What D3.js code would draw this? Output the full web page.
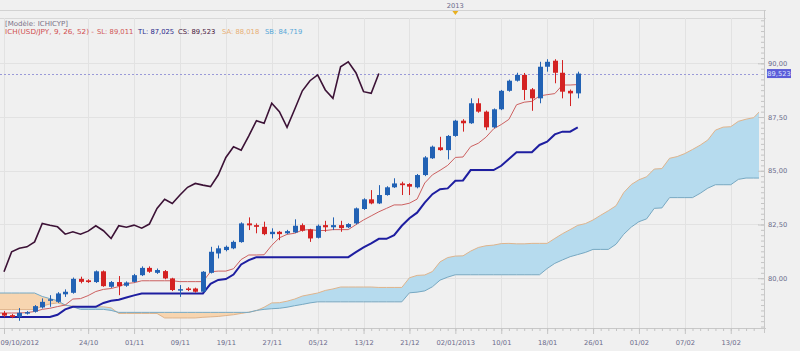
<!DOCTYPE html>
<html><head><meta charset="utf-8">
<script src="https://cdn.jsdelivr.net/npm/d3@7"></script>
<style>
body{margin:0;background:#f0f0f0;}
svg{display:block;font-family:"DejaVu Sans",Verdana,sans-serif;}
</style>
</head><body>
<svg id="c" width="800" height="351"></svg>
<script>
// ---- data ----
const xTickIndex = [0, 11, 17, 23, 29, 35, 41, 47, 53, 59, 65, 71, 77, 83, 89, 95];
const xTickLabels = ["09/10/2012","24/10","01/11","09/11","19/11","27/11","05/12","13/12","21/12","02/01/2013","10/01","18/01","26/01","01/02","07/02","13/02"];
const yTickValues = [80, 82.5, 85, 87.5, 90];

const open = [78.38,78.28,78.20,78.36,78.44,78.64,79.00,78.90,79.25,79.32,
 79.97,79.90,79.82,80.32,79.60,79.82,79.65,79.83,80.14,80.48,
 80.25,80.33,79.99,79.47,79.52,79.52,79.37,80.25,81.15,81.31,
 81.39,81.68,82.55,82.47,82.39,82.05,82.16,82.09,82.13,82.47,
 82.27,81.88,82.47,82.37,82.47,82.37,82.55,83.22,83.67,83.48,
 83.87,84.23,84.41,84.38,84.23,84.80,85.58,86.09,85.96,86.62,
 87.33,87.21,88.14,87.75,87.02,87.86,88.72,89.19,89.46,88.79,
 88.37,89.84,90.12,89.56,88.72,88.60];
const high = [78.47,78.33,78.61,78.47,78.75,79.06,79.21,79.35,79.48,80.03,
 80.07,79.95,80.36,80.36,79.87,80.10,79.85,80.20,80.55,80.55,
 80.45,80.38,80.02,79.68,79.58,79.56,80.33,81.46,81.52,81.52,
 81.75,82.60,82.83,82.55,82.63,82.32,82.20,82.25,82.74,82.55,
 82.30,82.50,82.67,82.83,82.67,82.56,83.29,83.72,84.10,84.33,
 84.28,84.65,84.49,84.42,84.85,85.68,86.17,86.58,86.66,87.37,
 87.40,88.37,88.37,87.80,87.90,88.76,89.24,89.56,89.55,88.85,
 90.07,90.19,90.19,90.15,88.78,89.61];
const low = [78.19,78.14,78.02,78.31,78.40,78.59,78.67,78.85,79.13,79.28,
 79.76,79.78,79.78,79.60,79.55,79.21,79.60,79.80,80.10,80.25,
 80.20,79.95,79.40,79.13,79.40,79.33,79.35,80.22,80.92,81.25,
 81.35,81.65,82.24,82.09,82.00,81.85,81.77,82.05,82.10,82.17,
 81.69,81.85,82.16,82.24,82.16,82.33,82.50,83.18,83.44,83.45,
 83.84,84.20,83.87,83.87,84.18,84.75,85.55,85.93,85.53,86.58,
 86.82,87.18,87.70,86.89,86.98,87.82,88.68,89.15,88.29,87.79,
 88.14,89.61,89.07,88.37,88.01,88.37];
const close = [78.26,78.19,78.39,78.42,78.70,78.90,79.02,79.29,79.37,79.97,
 79.83,79.82,80.32,79.63,79.82,79.63,79.80,80.14,80.48,80.30,
 80.38,79.99,79.45,79.49,79.45,79.37,80.30,81.23,81.39,81.46,
 81.69,82.55,82.46,82.39,82.05,82.16,82.05,82.19,82.44,82.21,
 81.85,82.44,82.37,82.47,82.33,82.52,83.25,83.67,83.48,83.87,
 84.23,84.41,84.33,84.26,84.80,85.62,86.12,85.96,86.62,87.33,
 87.21,88.14,87.75,87.02,87.86,88.72,89.19,89.46,88.76,88.37,
 89.84,90.07,89.56,88.68,88.60,89.523];
const tenkan = [78.38,78.38,78.38,78.40,78.45,78.55,78.60,78.68,78.75,79.03,
 79.05,79.19,79.38,79.48,79.52,79.61,79.75,79.79,79.88,79.88,
 79.88,79.88,79.88,79.84,79.84,79.84,79.84,80.30,80.33,80.33,
 80.44,80.87,81.08,81.08,81.09,81.53,81.88,82.04,82.09,82.24,
 82.26,82.22,82.22,82.26,82.26,82.26,82.49,82.71,82.90,83.09,
 83.25,83.41,83.41,83.49,83.68,84.43,84.81,85.02,85.25,85.62,
 85.64,86.12,86.28,86.56,86.95,87.15,87.39,88.07,88.19,88.23,
 88.48,88.54,88.59,88.99,88.99,89.01];
const kijun = [78.20,78.20,78.20,78.20,78.20,78.20,78.20,78.30,78.55,78.67,
 78.67,78.67,78.67,78.85,78.95,79.00,79.10,79.20,79.29,79.29,
 79.29,79.29,79.29,79.29,79.29,79.29,79.29,79.74,79.92,79.96,
 80.17,80.64,80.84,80.98,80.98,80.98,80.98,80.98,80.98,80.98,
 80.98,80.98,80.98,80.98,80.98,80.98,81.21,81.43,81.62,81.83,
 81.83,82.00,82.44,82.79,83.05,83.52,83.91,84.14,84.18,84.53,
 84.55,85.03,85.03,85.03,85.03,85.23,85.55,85.86,85.86,85.86,
 86.20,86.35,86.69,86.82,86.82,87.02];
const chikou = [80.30,81.23,81.39,81.46,81.69,82.55,82.46,82.39,82.05,82.16,
 82.05,82.19,82.44,82.21,81.85,82.44,82.37,82.47,82.33,82.52,
 83.25,83.67,83.48,83.87,84.23,84.41,84.33,84.26,84.80,85.62,
 86.12,85.96,86.62,87.33,87.21,88.14,87.75,87.02,87.86,88.72,
 89.19,89.46,88.76,88.37,89.84,90.07,89.56,88.68,88.60,89.523];
const senkouA = [78.54,78.54,78.54,78.54,78.54,78.70,78.80,78.85,78.75,78.70,
 78.67,78.67,78.67,78.67,78.62,78.36,78.36,78.36,78.36,78.36,
 78.36,78.15,78.15,78.15,78.15,78.15,78.18,78.20,78.22,78.26,
 78.30,78.36,78.42,78.49,78.65,78.85,78.86,78.93,79.03,79.17,
 79.24,79.31,79.43,79.50,79.59,79.59,79.59,79.59,79.59,79.57,
 79.57,79.57,79.57,80.02,80.13,80.15,80.31,80.76,80.96,81.03,
 81.04,81.26,81.43,81.51,81.54,81.61,81.62,81.60,81.60,81.62,
 81.62,81.62,81.85,82.07,82.26,82.46,82.54,82.71,82.93,83.14,
 83.37,83.98,84.36,84.58,84.72,85.08,85.10,85.58,85.66,85.80,
 85.99,86.19,86.43,86.89,87.03,87.05,87.30,87.40,87.47,87.84,
 87.91,88.02];
const senkouB = [79.31,79.31,79.31,79.31,79.31,79.15,79.05,78.95,78.75,78.67,
 78.55,78.55,78.55,78.55,78.50,78.41,78.41,78.41,78.41,78.41,
 78.41,78.41,78.41,78.41,78.41,78.41,78.41,78.41,78.41,78.41,
 78.41,78.41,78.41,78.50,78.55,78.58,78.60,78.65,78.72,78.78,
 78.85,78.90,78.90,78.90,78.90,78.90,78.90,78.90,78.90,78.90,
 78.90,78.90,78.90,79.32,79.35,79.41,79.60,79.91,80.05,80.16,
 80.16,80.16,80.16,80.16,80.16,80.16,80.16,80.16,80.16,80.16,
 80.16,80.45,80.69,80.85,81.00,81.10,81.20,81.34,81.34,81.34,
 81.58,82.04,82.38,82.63,82.76,83.25,83.27,83.75,83.75,83.75,
 83.75,83.95,84.19,84.35,84.35,84.35,84.60,84.66,84.66,84.66,
 84.72,84.72];
const lastPrice = 89.523;
const legendItems = [
  {text:"SL: 89,011", color:"#d05858"},
  {text:"TL: 87,025", color:"#2a2a8a"},
  {text:"CS: 89,523", color:"#4a1a40"},
  {text:"SA: 88,018", color:"#e8b078"},
  {text:"SB: 84,719", color:"#58a8d8"}
];

// ---- layout ----
const svg = d3.select("#c");
const P = {left:0, right:759, top:18, bottom:328};
const x = d3.scaleLinear().domain([0, 95]).range([4, 4 + 95*7.65]);
const y = d3.scaleLinear().domain([80, 90]).range([278.2, 63.3]);
const lx = i => x(i === 0 ? -0.6 : i);

svg.append("rect").attr("width",800).attr("height",351).attr("fill","#f0f0f0");

const defs = svg.append("defs");
defs.append("clipPath").attr("id","plot").append("rect")
  .attr("x",P.left).attr("y",P.top).attr("width",P.right-P.left).attr("height",P.bottom-P.top);

// top strip
svg.append("line").attr("x1",0).attr("x2",766).attr("y1",10.5).attr("y2",10.5).attr("stroke","#d2d2d2");
svg.append("line").attr("x1",0).attr("x2",766).attr("y1",18.5).attr("y2",18.5).attr("stroke","#d8d8d8");
svg.append("text").attr("x",x(59)).attr("y",7.5).attr("text-anchor","middle")
  .attr("font-size",6.7).attr("fill","#6a6a8a").text("2013");
svg.append("path").attr("d",d3.line()([[x(59)-3,11],[x(59)+3,11],[x(59),15]])+"Z").attr("fill","#e8b020");

// grid
const g = svg.append("g");
g.selectAll(".vg").data(xTickIndex).join("line")
  .attr("x1",d=>Math.round(x(d))+0.5).attr("x2",d=>Math.round(x(d))+0.5)
  .attr("y1",P.top).attr("y2",P.bottom).attr("stroke","#e2e2e2");
g.selectAll(".hg").data(yTickValues).join("line")
  .attr("x1",P.left).attr("x2",P.right)
  .attr("y1",d=>Math.round(y(d))+0.5).attr("y2",d=>Math.round(y(d))+0.5).attr("stroke","#e2e2e2");

const plot = svg.append("g").attr("clip-path","url(#plot)");

// cloud
const idxAll = d3.range(senkouA.length);
defs.append("clipPath").attr("id","aboveB").append("path")
  .attr("d", d3.area().x(i=>lx(i)).y0(0).y1(i=>y(senkouB[i]))(idxAll));
defs.append("clipPath").attr("id","belowB").append("path")
  .attr("d", d3.area().x(i=>lx(i)).y0(i=>y(senkouB[i])).y1(351)(idxAll));
const between = d3.area().x(i=>lx(i)).y0(i=>y(senkouB[i])).y1(i=>y(senkouA[i]));
plot.append("g").attr("clip-path","url(#aboveB)").append("path")
  .attr("d", between(idxAll)).attr("fill","#b6dbee");
plot.append("g").attr("clip-path","url(#belowB)").append("path")
  .attr("d", between(idxAll)).attr("fill","#f7d5b0");
plot.append("path").attr("d", d3.line().x(i=>lx(i)).y(i=>y(senkouA[i]))(idxAll))
  .attr("fill","none").attr("stroke","#dfb48c").attr("stroke-width",1);
plot.append("path").attr("d", d3.line().x(i=>lx(i)).y(i=>y(senkouB[i]))(idxAll))
  .attr("fill","none").attr("stroke","#74a8c4").attr("stroke-width",1);

// price line
plot.append("line").attr("x1",P.left).attr("x2",766).attr("y1",Math.round(y(lastPrice))+0.5).attr("y2",Math.round(y(lastPrice))+0.5)
  .attr("stroke","#9a9ad8").attr("stroke-dasharray","2,2");

// tenkan / kijun / chikou
const idxC = d3.range(close.length);
plot.append("path").attr("d", d3.line().x(i=>lx(i)).y(i=>y(kijun[i]))(idxC))
  .attr("fill","none").attr("stroke","#1e1ea0").attr("stroke-width",2);
plot.append("path").attr("d", d3.line().x(i=>lx(i)).y(i=>y(tenkan[i]))(idxC))
  .attr("fill","none").attr("stroke","#cc6060").attr("stroke-width",1);
plot.append("path").attr("d", d3.line().x(i=>x(i)).y(i=>y(chikou[i]))(d3.range(chikou.length)))
  .attr("fill","none").attr("stroke","#3c1236").attr("stroke-width",1.6);

// candles
const cg = plot.append("g");
idxC.forEach(i=>{
  const up = close[i] >= open[i];
  const col = up ? "#2262b4" : "#d42222";
  const cx = Math.round(x(i)) + 0.5;
  cg.append("line").attr("x1",cx).attr("x2",cx).attr("y1",y(high[i])).attr("y2",y(low[i]))
    .attr("stroke",col).attr("stroke-width",1);
  const top = y(Math.max(open[i],close[i])), bot = y(Math.min(open[i],close[i]));
  cg.append("rect").attr("x",cx-2.5).attr("width",5).attr("y",top).attr("height",Math.max(1.5,bot-top))
    .attr("fill",col);
});

// right axis
const axR = svg.append("g").attr("transform","translate(764,0)");
axR.append("line").attr("x1",0.5).attr("x2",0.5).attr("y1",10).attr("y2",333).attr("stroke","#c8c8c8");
axR.call(g2=>{
  const minor = d3.axisRight(y).tickValues(d3.range(77.75, 92.2, 0.25)).tickSize(-3).tickFormat("");
  const gm = g2.append("g").call(minor);
  gm.select(".domain").remove();
  gm.selectAll("line").attr("stroke","#c4c4c4");
  const major = d3.axisRight(y).tickValues(yTickValues).tickSize(-6).tickPadding(4)
    .tickFormat(d=>d.toFixed(2).replace(".",","));
  const gM = g2.append("g").call(major);
  gM.select(".domain").remove();
  gM.selectAll("line").attr("stroke","#c4c4c4");
  gM.selectAll("text").attr("font-size",6.7).attr("fill","#6a6a8a").attr("font-family","DejaVu Sans");
});
// last price label
svg.append("rect").attr("x",767).attr("y",y(lastPrice)-4.5).attr("width",24).attr("height",9).attr("fill","#5c5cd8");
svg.append("text").attr("x",779).attr("y",y(lastPrice)+2.4).attr("text-anchor","middle")
  .attr("font-size",6.7).attr("fill","#dfe6ff").text("89,523");

// bottom axis
const axB = svg.append("g").attr("transform","translate(0,328)");
axB.append("line").attr("x1",0).attr("x2",766).attr("y1",0.5).attr("y2",0.5).attr("stroke","#c8c8c8");
const minorB = d3.axisBottom(x).tickValues(d3.range(0, 99)).tickSize(3).tickFormat("");
const gbm = axB.append("g").call(minorB);
gbm.select(".domain").remove();
gbm.selectAll("line").attr("stroke","#c4c4c4");
const majorB = d3.axisBottom(x).tickValues(xTickIndex).tickSize(6).tickPadding(6.5)
  .tickFormat((d,i)=>xTickLabels[i]);
const gbM = axB.append("g").call(majorB);
gbM.select(".domain").remove();
gbM.selectAll("line").attr("stroke","#c4c4c4");
gbM.selectAll("text").attr("font-size",6.7).attr("fill","#6a6a8a").attr("font-family","DejaVu Sans");
gbM.selectAll("text").filter((d,i)=>i===0).attr("text-anchor","start").attr("x",-4);

// legend
svg.append("text").attr("x",5).attr("y",25.5).attr("font-size",6.9).attr("fill","#7a7086")
  .attr("textLength",63).attr("lengthAdjust","spacingAndGlyphs").text("[Modèle: ICHICYP]");
svg.append("text").attr("x",5).attr("y",33.5).attr("font-size",6.9).attr("fill","#d05050")
  .attr("textLength",89).attr("lengthAdjust","spacingAndGlyphs").text("ICH(USD/JPY, 9, 26, 52) -");
const legX = [97, 138, 178, 222, 265];
legendItems.forEach((d,i)=>{
  svg.append("text").attr("x",legX[i]).attr("y",33.5).attr("font-size",6.8).attr("fill",d.color).text(d.text);
});
</script>
</body></html>
